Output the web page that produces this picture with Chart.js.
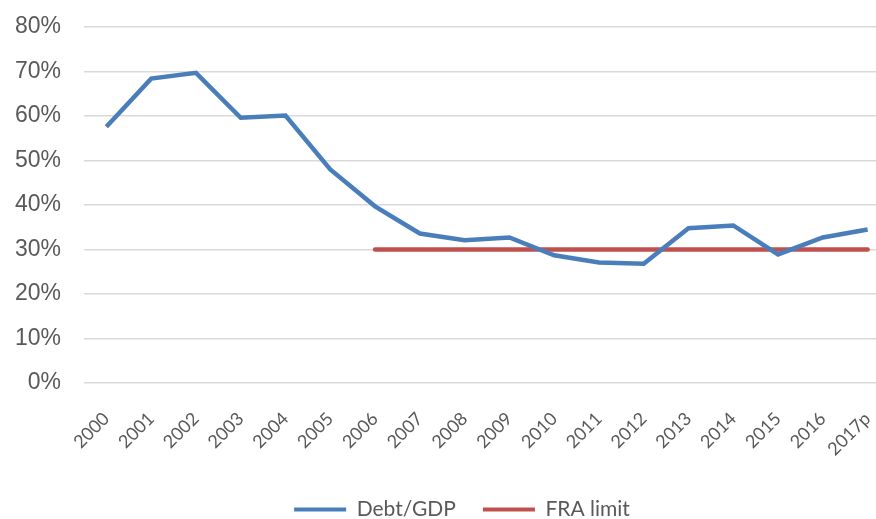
<!DOCTYPE html>
<html>
<head>
<meta charset="utf-8">
<script src="https://cdn.jsdelivr.net/npm/chart.js@4"></script>
<style>
  html, body { margin: 0; padding: 0; background: #fff; overflow: hidden; }
  #wrap { width: 890px; height: 519px; }
</style>
</head>
<body>
<div id="wrap"><canvas id="myChart" width="890" height="519"></canvas></div>
<script>
var years = ['2000', '2001', '2002', '2003', '2004', '2005', '2006', '2007', '2008',
             '2009', '2010', '2011', '2012', '2013', '2014', '2015', '2016', '2017p'];
var debtGdp = [57.6, 68.4, 69.7, 59.6, 60.1, 48.0, 39.7, 33.6, 32.1,
               32.7, 28.7, 27.1, 26.8, 34.8, 35.4, 28.9, 32.7, 34.5];
var fraLimit = [null, null, null, null, null, null, 30, 30, 30,
                30, 30, 30, 30, 30, 30, 30, 30, 30];
var yTicks = [0, 10, 20, 30, 40, 50, 60, 70, 80];

var blue = '#4a7ebb';
var red = '#c0504d';

// nudge the legend a bit to the right, like the original
var legendShift = {
    id: 'legendShift',
    afterLayout: function (chart) {
        chart.legend.left += 17;
        chart.legend.right += 17;
    }
};

const ctx = document.getElementById('myChart');

new Chart(ctx, {
    type: 'line',
    data: {
        labels: years,
        datasets: [{
            label: 'Debt/GDP',
            data: debtGdp,
            borderColor: blue,
            backgroundColor: blue,
            borderWidth: 4.5,
            pointRadius: 0,
            tension: 0
        }, {
            label: 'FRA limit',
            data: fraLimit,
            borderColor: red,
            backgroundColor: red,
            borderWidth: 4.5,
            borderCapStyle: 'round',
            pointRadius: 0,
            tension: 0
        }]
    },
    plugins: [legendShift],
    options: {
        responsive: false,
        animation: false,
        // negative bottom padding pushes the legend down to the bottom edge
        layout: { padding: { top: 0, left: 0, right: 0, bottom: -11 } },
        plugins: {
            tooltip: { enabled: false },
            legend: {
                position: 'bottom',
                labels: {
                    boxWidth: 52,
                    boxHeight: 4,
                    padding: 27,
                    color: '#595959',
                    font: { family: 'Lato', size: 21 },
                    generateLabels: function (chart) {
                        var items = Chart.defaults.plugins.legend.labels.generateLabels(chart);
                        items.forEach(function (it) { it.lineWidth = 0; });
                        return items;
                    }
                }
            }
        },
        scales: {
            x: {
                offset: true,
                grid: { display: false, drawTicks: false },
                border: { display: false },
                ticks: {
                    color: '#595959',
                    font: { family: 'Lato', size: 18 },
                    maxRotation: 45,
                    minRotation: 45,
                    autoSkip: false,
                    padding: 25
                },
                afterFit: function (scale) {
                    scale.height = 89;
                    scale.paddingLeft = 0;
                    scale.paddingRight = 0;
                }
            },
            y: {
                min: 0,
                max: 80,
                afterBuildTicks: function (scale) {
                    scale.ticks = yTicks.map(function (v) { return { value: v }; });
                },
                grid: { color: '#d9d9d9', lineWidth: 1.5, drawTicks: false },
                border: { display: false },
                ticks: {
                    color: '#595959',
                    font: { family: 'Liberation Sans', size: 23 },
                    padding: 23,
                    callback: function (v) { return v + '%'; }
                },
                afterFit: function (scale) {
                    scale.width = 84;
                    scale.paddingTop = 27;
                }
            }
        }
    }
});
</script>
</body>
</html>
